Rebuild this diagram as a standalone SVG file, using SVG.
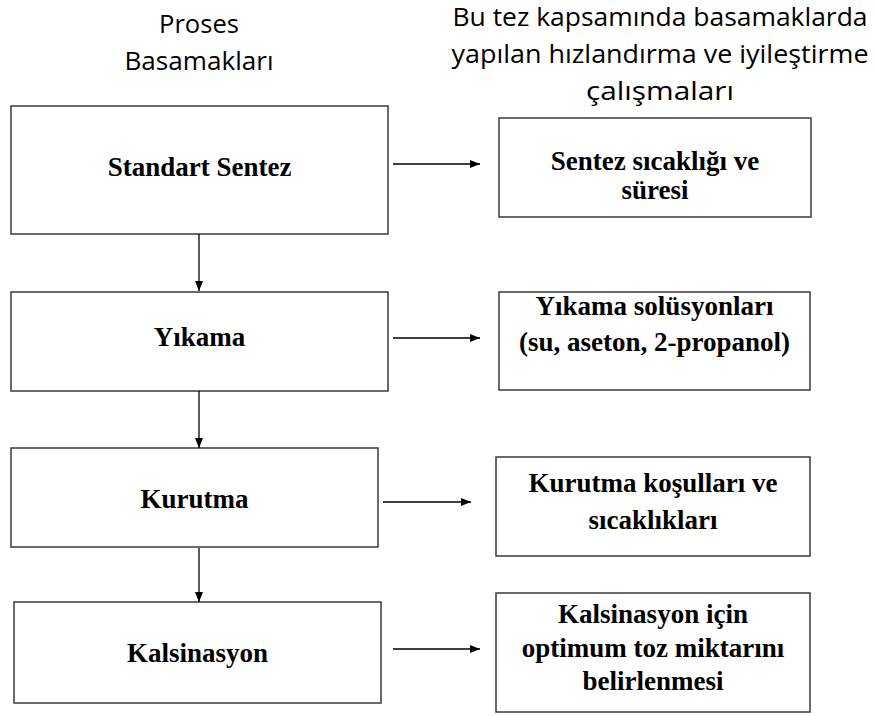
<svg xmlns="http://www.w3.org/2000/svg" width="876" height="716" viewBox="0 0 876 716">
<defs>
<style>
.box{fill:#fff;stroke:#3a3a3a;stroke-width:1.5}
.lbl{font-family:"Liberation Serif","Times New Roman",serif;font-weight:bold;font-size:27px;fill:#000;text-anchor:middle}
.hdr{font-family:"Open Sans","Liberation Sans",sans-serif;font-size:25px;fill:#000;text-anchor:middle}
.con{stroke:#000;stroke-width:1.3;fill:none}
</style>
<marker id="ah" markerWidth="10" markerHeight="8" refX="10" refY="4" orient="auto" markerUnits="userSpaceOnUse">
<path d="M0,0 L10,4 L0,8 Z" fill="#000"/>
</marker>
</defs>
<rect width="876" height="716" fill="#fff"/>
<g id="headers">
<text class="hdr" x="199" y="33" textLength="80" lengthAdjust="spacingAndGlyphs">Proses</text>
<text class="hdr" x="199" y="70" textLength="149" lengthAdjust="spacingAndGlyphs">Basamakları</text>
<text class="hdr" x="660" y="26" textLength="415" lengthAdjust="spacingAndGlyphs">Bu tez kapsamında basamaklarda</text>
<text class="hdr" x="660" y="63" textLength="417" lengthAdjust="spacingAndGlyphs">yapılan hızlandırma ve iyileştirme</text>
<text class="hdr" x="660" y="100" textLength="148" lengthAdjust="spacingAndGlyphs">çalışmaları</text>
</g>
<g id="n1"><rect class="box" x="11" y="106" width="377" height="128"/><text class="lbl" x="199.5" y="176">Standart Sentez</text></g>
<g id="n2"><rect class="box" x="11" y="292" width="377" height="99"/><text class="lbl" x="199.5" y="346">Yıkama</text></g>
<g id="n3"><rect class="box" x="11" y="448" width="367" height="99"/><text class="lbl" x="194.5" y="508">Kurutma</text></g>
<g id="n4"><rect class="box" x="14" y="602" width="367" height="101"/><text class="lbl" x="197.5" y="662">Kalsinasyon</text></g>
<g id="r1"><rect class="box" x="499" y="118" width="312" height="99"/><text class="lbl" x="655" y="170">Sentez sıcaklığı ve</text><text class="lbl" x="655" y="199">süresi</text></g>
<g id="r2"><rect class="box" x="499" y="292" width="311" height="98"/><text class="lbl" x="654.5" y="315">Yıkama solüsyonları</text><text class="lbl" x="654.5" y="351">(su, aseton, 2-propanol)</text></g>
<g id="r3"><rect class="box" x="496" y="457" width="314" height="99"/><text class="lbl" x="653" y="492">Kurutma koşulları ve</text><text class="lbl" x="653" y="529">sıcaklıkları</text></g>
<g id="r4"><rect class="box" x="496" y="593" width="314" height="119"/><text class="lbl" x="653" y="623">Kalsinasyon için</text><text class="lbl" x="653" y="657">optimum toz miktarını</text><text class="lbl" x="653" y="690">belirlenmesi</text></g>
<g id="connectors">
<line class="con" x1="199" y1="234" x2="199" y2="291" marker-end="url(#ah)"/>
<line class="con" x1="199" y1="391" x2="199" y2="448" marker-end="url(#ah)"/>
<line class="con" x1="199" y1="548" x2="199" y2="602" marker-end="url(#ah)"/>
<line class="con" x1="393" y1="164" x2="480" y2="164" marker-end="url(#ah)"/>
<line class="con" x1="393" y1="338" x2="480" y2="338" marker-end="url(#ah)"/>
<line class="con" x1="383" y1="502" x2="471" y2="502" marker-end="url(#ah)"/>
<line class="con" x1="393" y1="649" x2="480" y2="649" marker-end="url(#ah)"/>
</g>
</svg>
